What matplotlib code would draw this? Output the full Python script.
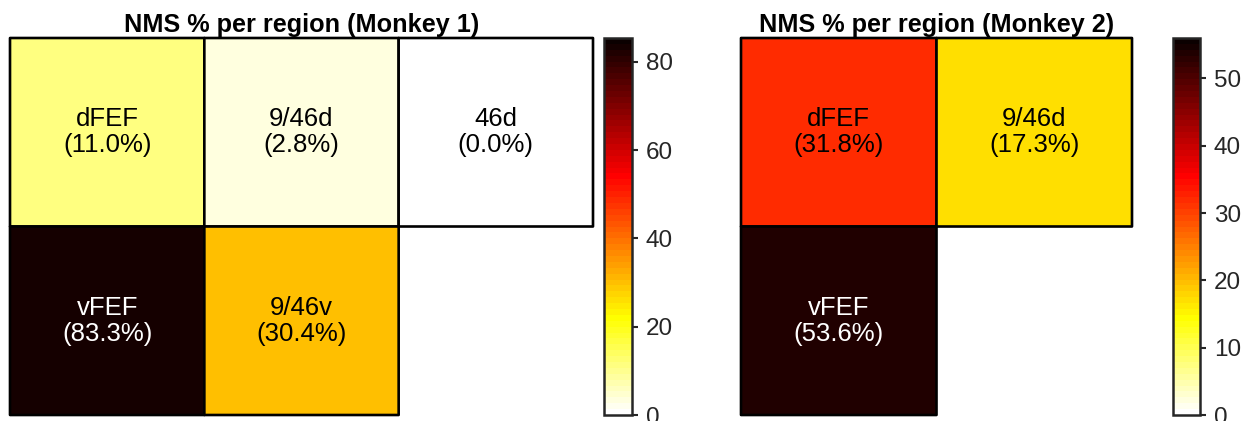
import numpy as np
import matplotlib
matplotlib.use("Agg")
import matplotlib.pyplot as plt
from matplotlib.colors import ListedColormap

plt.rcParams['font.family'] = ['Liberation Sans', 'DejaVu Sans']

# ---- data ----
m1_title = "NMS % per region (Monkey 1)"
m1_names = [["dFEF", "9/46d", "46d"], ["vFEF", "9/46v", None]]
m1_values = [[11.0, 2.8, 0.0], [83.3, 30.4, np.nan]]
m1_vmax = 85.4
m1_ticks = [0, 20, 40, 60, 80]

m2_title = "NMS % per region (Monkey 2)"
m2_names = [["dFEF", "9/46d"], ["vFEF", None]]
m2_values = [[31.8, 17.3], [53.6, np.nan]]
m2_vmax = 56.0
m2_ticks = [0, 10, 20, 30, 40, 50]

# MATLAB-style hot(64), flipped
n = 64
i = np.arange(1, n + 1)
k = int(3 * n / 8)
r = np.clip(i / k, 0, 1)
g = np.clip((i - k) / k, 0, 1)
b = np.clip((i - 2 * k) / (n - 2 * k), 0, 1)
cmap = ListedColormap(np.column_stack([r, g, b])[::-1])

W, H = 1245, 421
fig = plt.figure(figsize=(W / 100, H / 100), dpi=100)


def px_axes(x0, y0, x1, y1):
    return fig.add_axes([x0 / W, 1 - y1 / H, (x1 - x0) / W, (y1 - y0) / H])


def draw(ax, cax, names, values, vmax, ticks, title):
    data = np.ma.masked_invalid(np.array(values, dtype=float))
    nr, nc = data.shape
    mesh = ax.pcolor(np.arange(nc + 1), np.arange(nr + 1), data, cmap=cmap,
                     vmin=0, vmax=vmax, edgecolors='black', linewidth=1.9)
    mesh.set_clip_on(False)
    ax.set_xlim(0, nc)
    ax.set_ylim(nr, 0)
    ax.set_axis_off()
    for rr in range(nr):
        for cc in range(nc):
            v = values[rr][cc]
            if names[rr][cc] is None or np.isnan(v):
                continue
            col = 'white' if v / vmax > 0.7 else 'black'
            ax.text(cc + 0.5, rr + 0.5, f"{names[rr][cc]}\n({v:.1f}%)",
                    ha='center', va='center', fontsize=18.5, color=col,
                    linespacing=1.1)
    ax.set_title(title, fontsize=18.2, fontweight='bold', pad=4)
    cb = fig.colorbar(mesh, cax=cax, ticks=ticks)
    cb.outline.set_linewidth(1.8)
    cb.outline.set_edgecolor('#262626')
    cax.tick_params(labelsize=17.5, length=4, width=1.5, colors='#262626',
                    labelcolor='#262626', pad=6)


ax1 = px_axes(10, 38, 593, 415)
cax1 = px_axes(604, 38, 632, 415)
draw(ax1, cax1, m1_names, m1_values, m1_vmax, m1_ticks, m1_title)

ax2 = px_axes(741, 38, 1132, 415)
cax2 = px_axes(1173, 38, 1200, 415)
draw(ax2, cax2, m2_names, m2_values, m2_vmax, m2_ticks, m2_title)

fig.savefig("out.png", dpi=100)
